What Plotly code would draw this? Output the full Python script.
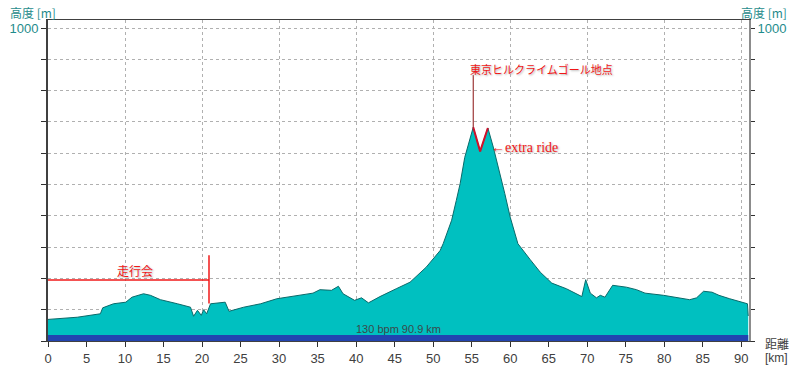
import plotly.graph_objects as go

# ---- data ----
dist_km = [0.0, 3.8, 6.8, 7.1, 8.5, 10.1, 10.9, 12.4, 13.3, 14.6, 16.8, 18.5, 18.9, 19.4, 19.9,
           20.2, 20.6, 21.1, 23.0, 23.5, 25.4, 27.6, 29.7, 32.3, 34.4, 35.3, 36.8, 37.7, 38.3,
           39.8, 40.7, 41.6, 43.1, 45.2, 47.0, 49.1, 50.9, 51.3, 51.9, 52.4, 53.0, 53.5, 54.1,
           55.2, 56.1, 57.1, 57.8, 58.7, 59.3, 60.0, 60.4, 61.0, 62.6, 63.9, 65.4, 67.3, 69.3,
           69.8, 70.4, 71.2, 71.7, 72.3, 73.3, 75.1, 76.4, 77.5, 79.9, 81.6, 83.3, 84.2, 85.1,
           86.2, 87.1, 88.5, 90.3, 90.8, 90.9]
elev_m = [69, 76, 87, 106, 119, 124, 140, 151, 146, 132, 119, 108, 79, 98, 82,
          100, 87, 119, 124, 95, 108, 119, 135, 146, 153, 164, 162, 175, 151,
          130, 138, 122, 142, 167, 188, 236, 289, 311, 353, 386, 449, 503, 587,
          683, 606, 681, 620, 534, 471, 396, 364, 311, 260, 220, 185, 167, 142,
          196, 153, 138, 146, 140, 178, 172, 164, 153, 146, 140, 132, 138, 159,
          156, 146, 135, 124, 119, 80]

extra_start, extra_end = 55.2, 57.1          # extra ride section (km)
goal_km, goal_label_elev = 55.2, 850         # goal marker
group_ride_end_km = 20.9                     # 走行会 section end
group_ride_line_elev = 195
group_ride_tick = [120, 274]
hr_band = [0, 19]                            # heart-rate band (m)
total_km = 90.9

x_ticks = list(range(0, 95, 5))
y_ticks = list(range(0, 1100, 100))
y_ticktext = ["1000" if v == 1000 else "" for v in y_ticks]

TEAL = "#00C0C0"
TEAL_LINE = "#0A6A6A"
LABEL_TEAL = "#1F8C8C"
RED = "#F01818"
GRID = "#B0B0B0"
FONT = "Liberation Sans"
JFONT = "Noto Sans CJK JP"

fig = go.Figure()
fig.add_trace(go.Scatter(x=dist_km, y=elev_m, mode="lines", fill="tozeroy",
                         fillcolor=TEAL, line=dict(color=TEAL_LINE, width=1),
                         hoverinfo="skip", showlegend=False))
ex_x = [d for d in dist_km if extra_start <= d <= extra_end]
ex_y = [e for d, e in zip(dist_km, elev_m) if extra_start <= d <= extra_end]
fig.add_trace(go.Scatter(x=ex_x, y=ex_y, mode="lines",
                         line=dict(color="#D0102A", width=2), hoverinfo="skip", showlegend=False))
# grid carrier (x2) and right axis carrier (y2)
fig.add_trace(go.Scatter(x=[0], y=[0], xaxis="x2", yaxis="y", mode="markers",
                         marker=dict(opacity=0), hoverinfo="skip", showlegend=False))
fig.add_trace(go.Scatter(x=[0], y=[0], xaxis="x", yaxis="y2", mode="markers",
                         marker=dict(opacity=0), hoverinfo="skip", showlegend=False))

yr = [0, 1026]
xr = [0, 91.0]
fig.update_layout(
    width=800, height=368, autosize=False,
    margin=dict(l=48, r=51, t=20, b=27, autoexpand=False),
    paper_bgcolor="white", plot_bgcolor="white",
    xaxis=dict(range=xr, tickvals=x_ticks, ticks="outside", ticklen=5, tickcolor="#303030",
               showgrid=False, zeroline=False, showline=True, linecolor="#404040", linewidth=1,
               mirror=True, automargin=False,
               tickfont=dict(family=FONT, size=13, color="#404040")),
    xaxis2=dict(range=xr, overlaying="x", dtick=10, tick0=0, showgrid=True, gridcolor=GRID,
                griddash="dot", gridwidth=1, showticklabels=False, ticks="", zeroline=False,
                showline=False, automargin=False),
    yaxis=dict(range=yr, tickvals=y_ticks, ticktext=y_ticktext, ticks="outside", ticklen=5,
               tickcolor="#303030", showgrid=True, gridcolor=GRID, griddash="dot", gridwidth=1,
               zeroline=False, showline=True, linecolor="#404040", linewidth=2, automargin=False,
               tickfont=dict(family=FONT, size=13, color=LABEL_TEAL)),
    yaxis2=dict(range=yr, overlaying="y", side="right", tickvals=y_ticks, ticktext=y_ticktext,
                ticks="outside", ticklen=4, tickcolor="#303030", showgrid=False, zeroline=False,
                showline=True, linecolor="#8C8C8C", linewidth=2, automargin=False,
                tickfont=dict(family=FONT, size=13, color=LABEL_TEAL)),
)

shapes = [
    dict(type="rect", xref="x", yref="y", x0=0, x1=total_km, y0=hr_band[0], y1=hr_band[1],
         fillcolor="#2244B0", line=dict(width=0), layer="above"),
    dict(type="line", xref="x", yref="y", x0=goal_km, x1=goal_km, y0=683, y1=goal_label_elev,
         line=dict(color="#8A1010", width=1), layer="above"),
    dict(type="line", xref="x", yref="y", x0=0, x1=group_ride_end_km,
         y0=group_ride_line_elev, y1=group_ride_line_elev, line=dict(color=RED, width=1.5),
         layer="above"),
    dict(type="line", xref="x", yref="y", x0=group_ride_end_km, x1=group_ride_end_km,
         y0=group_ride_tick[0], y1=group_ride_tick[1], line=dict(color=RED, width=1.5),
         layer="above"),
]
fig.update_layout(shapes=shapes)


def px_x(p):
    return (p - 48) / 701


def px_y(p):
    return (341 - p) / 321


shadow = "1px 1px 2px #b0b0b0"
ann = [
    dict(x=64.1, y=868, xref="x", yref="y", text="東京ヒルクライムゴール地点", showarrow=False,
         font=dict(family=JFONT, size=11, color=RED, shadow=shadow)),
    dict(x=57.3, y=619, xref="x", yref="y", text="←extra ride", showarrow=False, xanchor="left",
         font=dict(family="Liberation Serif", size=14, color=RED, shadow=shadow)),
    dict(x=11.3, y=226, xref="x", yref="y", text="走行会", showarrow=False,
         font=dict(family=JFONT, size=12, color=RED, shadow=shadow)),
    dict(x=45.5, y=38, xref="x", yref="y", text="130 bpm 90.9 km", showarrow=False,
         font=dict(family=FONT, size=11, color="#3A4A4A")),
    dict(x=px_x(33), y=px_y(12), xref="paper", yref="paper", text="高度 [m]",
         xanchor="center", yanchor="middle",
         showarrow=False, font=dict(family=JFONT, size=12, color=LABEL_TEAL)),
    dict(x=px_x(764), y=px_y(12), xref="paper", yref="paper", text="高度 [m]",
         xanchor="center", yanchor="middle",
         showarrow=False, font=dict(family=JFONT, size=12, color=LABEL_TEAL)),
    dict(x=px_x(777), y=px_y(343), xref="paper", yref="paper", text="距離",
         xanchor="center", yanchor="middle",
         showarrow=False, font=dict(family=JFONT, size=12, color="#404040")),
    dict(x=px_x(777), y=px_y(358), xref="paper", yref="paper", text="[km]",
         xanchor="center", yanchor="middle",
         showarrow=False, font=dict(family=FONT, size=12, color="#404040")),
]
fig.update_layout(annotations=ann)

fig.write_html("out.html")
